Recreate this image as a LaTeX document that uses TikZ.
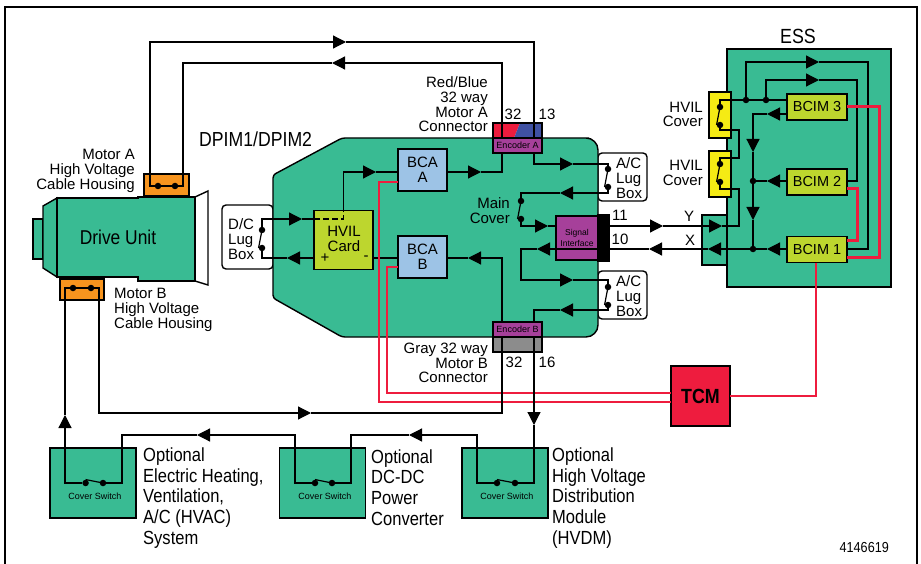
\documentclass[tikz,border=0pt]{standalone}
\usepackage{fontspec}
\setmainfont{Liberation Sans}
\newfontfamily\narrowfont[FakeStretch=0.87]{Liberation Sans}
\usetikzlibrary{arrows.meta}
\definecolor{modgreen}{HTML}{39BB93}
\definecolor{housing}{HTML}{F7941E}
\definecolor{cardgreen}{HTML}{BDD62E}
\definecolor{bcablue}{HTML}{9DC3E6}
\definecolor{encpurple}{HTML}{A6409A}
\definecolor{hvilred}{HTML}{EE1C3E}
\definecolor{coveryellow}{HTML}{F5EB14}
\definecolor{conngray}{HTML}{8C8C8C}
\definecolor{connblue}{HTML}{3F51A3}
\tikzset{
  box/.style={draw, rectangle, line width=1.4pt, inner sep=0pt, outer sep=0pt},
  lugbox/.style={box, fill=white, rounded corners=4pt},
  dot/.style={circle, fill=black, inner sep=0pt, minimum size=6.5pt},
  wire/.style={line width=1.2pt},
  redwire/.style={draw=hvilred, line width=3pt},
  lbl/.style={font=\fontsize{15}{14.7}\selectfont, inner sep=0pt, align=right, anchor=east},
  lblleft/.style={lbl, align=left, anchor=west},
  optlbl/.style={font=\narrowfont\fontsize{19}{20.7}\selectfont, inner sep=0pt, align=left, anchor=west},
  tiny/.style={font=\fontsize{9}{11}\selectfont, inner sep=0pt, align=center},
  ctext/.style={font=\fontsize{15}{15}\selectfont, align=center},
  numlbl/.style={font=\fontsize{15}{15}\selectfont, inner sep=0pt}
}
\begin{document}
\begin{tikzpicture}[x=1pt, y=-1pt, >={Triangle[length=13pt,width=13pt]}]
\useasboundingbox (0,0) rectangle (921,564);
\draw[line width=2pt] (5,564) -- (5,7) -- (917,7) -- (917,564);

\draw[box, fill=modgreen] (33,219) rectangle (43,259);
\draw[box, fill=modgreen] (57,198) -- (43,206) -- (43,268) -- (57,277) -- cycle;
\draw[box, fill=white] (195,197) -- (208,191) -- (208,285) -- (195,281) -- cycle;
\draw[box, fill=modgreen] (57,198) -- (138,198) -- (138,197) -- (195,197) -- (195,281) -- (138,281) -- (138,277) -- (57,277) -- cycle;
\node[font=\narrowfont\fontsize{20}{20}\selectfont] (drive) at (118,237) {Drive Unit};
\node[box, fill=housing, minimum width=45pt, minimum height=22pt] (housa) at (166.5,185) {};
\node[box, fill=housing, minimum width=44pt, minimum height=21pt] (housb) at (82,289.5) {};

\node[lugbox, minimum width=51pt, minimum height=64pt] (dcbox) at (247.5,237) {};
\node[lugbox, minimum width=49pt, minimum height=48pt] (acboxa) at (622.5,177) {};
\node[lugbox, minimum width=49pt, minimum height=48pt] (acboxb) at (622.5,295) {};
\draw[box, fill=modgreen, rounded corners=3pt] (273,175) -- (342,138) -- (586,138) [rounded corners=12pt] -- (598,138) -- (598,337) [rounded corners=3pt] -- (342,337) -- (273,298) -- cycle;

\fill[hvilred] (493,123) -- (520,123) -- (514,138) -- (493,138) -- cycle;
\fill[connblue] (520,123) -- (542,123) -- (542,138) -- (514,138) -- cycle;
\draw[box] (493,123) rectangle (542,138);
\draw[box, fill=conngray] (493,337) rectangle (542,352);

\node[box, fill=cardgreen, minimum width=59pt, minimum height=59pt] (hvil) at (343.5,240) {};
\node[ctext, inner sep=0pt] (hviltext) at (344,238.5) {HVIL\\Card};
\node[numlbl] (hvilplus) at (325,258) {+};
\node[numlbl] (hvilminus) at (366,258) {-};
\node[box, fill=bcablue, minimum width=49pt, minimum height=42pt, ctext] (bcaA) at (422.5,170) {BCA\\A};
\node[box, fill=bcablue, minimum width=49pt, minimum height=42pt, ctext] (bcaB) at (422.5,257) {BCA\\B};
\node[box, fill=encpurple, minimum width=49pt, minimum height=15pt, tiny] (encA) at (517.5,145.5) {Encoder A};
\node[box, fill=encpurple, minimum width=49pt, minimum height=15pt, tiny] (encB) at (517.5,329.5) {Encoder B};
\node[box, fill=encpurple, minimum width=42pt, minimum height=44pt, tiny, font=\fontsize{8.5}{11}\selectfont] (si) at (577,238) {Signal\\Interface};
\node[box, fill=black, minimum width=11pt, minimum height=46pt] (strip) at (603.5,238) {};

\node[box, fill=modgreen, minimum width=25pt, minimum height=50pt] (tab) at (714.5,240) {};
\node[box, fill=modgreen, minimum width=164pt, minimum height=238pt] (ess) at (809,168) {};
\node[box, fill=coveryellow, minimum width=22pt, minimum height=46pt] (hvcova) at (720,115) {};
\node[box, fill=coveryellow, minimum width=22pt, minimum height=46pt] (hvcovb) at (720,174) {};
\node[box, fill=cardgreen, minimum width=60pt, minimum height=26pt, font=\fontsize{14.5}{15}\selectfont] (bcim3) at (817,107) {BCIM 3};
\node[box, fill=cardgreen, minimum width=60pt, minimum height=26pt, font=\fontsize{14.5}{15}\selectfont] (bcim2) at (817,182) {BCIM 2};
\node[box, fill=cardgreen, minimum width=60pt, minimum height=26pt, font=\fontsize{14.5}{15}\selectfont] (bcim1) at (817,249.5) {BCIM 1};
\node[box, fill=hvilred, minimum width=59pt, minimum height=60pt, font=\narrowfont\bfseries\fontsize{20.5}{21}\selectfont] (tcm) at (700.5,396) {TCM};

\node[box, fill=modgreen, minimum width=86pt, minimum height=70pt] (optA) at (93,483) {};
\node[box, fill=modgreen, minimum width=86pt, minimum height=70pt] (optB) at (322.5,483) {};
\node[box, fill=modgreen, minimum width=86pt, minimum height=70pt] (optC) at (505,483) {};

\node[dot] (da1) at (158,186) {};
\node[dot] (da2) at (175,186) {};
\node[dot] (db1) at (73,288) {};
\node[dot] (db2) at (91,288) {};
\node[dot] (dc1) at (262,230) {};
\node[dot] (dc2) at (262,248) {};
\node[dot] (ac1) at (608,169) {};
\node[dot] (ac2) at (608,187) {};
\node[dot] (ac3) at (608,287) {};
\node[dot] (ac4) at (608,305) {};
\node[dot] (mc1) at (521,201) {};
\node[dot] (mc2) at (521,219) {};
\node[dot] (hv1) at (720,107) {};
\node[dot] (hv2) at (720,125) {};
\node[dot] (hv3) at (720,164) {};
\node[dot] (hv4) at (720,182) {};
\node[dot] (j1) at (753,249) {};
\node[dot] (j2) at (753,181) {};
\node[dot] (j3) at (746,100) {};
\node[dot] (j4) at (766,100) {};
\node[dot] (sa1) at (85.6,483) {};
\node[dot] (sa2) at (103,483) {};
\node[dot] (sb1) at (315,483) {};
\node[dot] (sb2) at (332,483) {};
\node[dot] (sc1) at (497,483) {};
\node[dot] (sc2) at (515,483) {};

\draw[wire] (da1.center) -- (da2.center);
\draw[wire] (db1.center) -- (db2.center);
\draw[wire] (dc1.center) -- (dc2.west);
\draw[wire] (ac1.center) -- (ac2.west);
\draw[wire] (ac3.center) -- (ac4.west);
\draw[wire] (mc1.center) -- (mc2.west);
\draw[wire] (hv1.center) -- (hv2.west);
\draw[wire] (hv3.center) -- (hv4.west);
\draw[wire] (sa1.north) -- (sa2.center);
\draw[wire] (sb1.north) -- (sb2.center);
\draw[wire] (sc1.north) -- (sc2.center);

\coordinate (ttop) at (346,42);
\coordinate (tlow) at (332,63);
\coordinate (tdca) at (302,219);
\coordinate (tdcb) at (287,258);
\coordinate (tbca) at (376,172);
\coordinate (tenca) at (481,172);
\coordinate (tencb) at (468,258);
\coordinate (tlua) at (573,164);
\coordinate (tlub) at (560,193);
\coordinate (tsig) at (548,226);
\coordinate (tya) at (663,226);
\coordinate (tyb) at (722,226);
\coordinate (txa) at (708,249);
\coordinate (txb) at (649,249);
\coordinate (txc) at (537,249);
\coordinate (tluc) at (573,280);
\coordinate (tlud) at (560,310);

\draw[wire,->] (da1) -- (150,186) -- (150,42) -- (ttop);
\draw[wire] (ttop) -| (encA.north -| 534,0);
\draw[wire,->] (encA.north -| 502,0) |- (tlow);
\draw[wire] (tlow) -- (183,63) -- (183,186) -- (da2);

\draw[wire,->] (dc1) |- (tdca);
\draw[wire] (tdca) -- (hvil.west |- tdca);
\draw[wire,dash pattern=on 6pt off 3pt] (hvil.west |- tdca) -| (hvil.north);
\draw[wire,->] (hvil.north) |- (tbca);
\draw[wire] (tbca) -- (bcaA.west |- tbca);
\draw[wire,->] (hvil.west |- tdcb) -- (tdcb);
\draw[wire] (tdcb) -| (dc2);
\draw[wire] (hvil.east |- tdcb) -- (bcaB.west |- tdcb);
\draw[wire,->] (bcaA.east |- tenca) -- (tenca);
\draw[wire] (tenca) -| (encA.south -| 502,0);
\draw[wire,->] (encB.north -| 502,0) |- (tencb);
\draw[wire] (tencb) -- (bcaB.east |- tencb);

\draw[wire,->] (encA.south -| 534,0) |- (tlua);
\draw[wire] (tlua) -| (ac1);
\draw[wire,->] (ac2) |- (tlub);
\draw[wire] (tlub) -| (mc1);
\draw[wire,->] (mc2) |- (tsig);
\draw[wire] (tsig) -- (si.west |- tsig);
\draw[wire,->] (strip.east |- tya) -- (tya);
\draw[wire,->] (tya) -- (tyb);
\draw[wire] (tyb) -- (739,226) -- (739,189) -- (720,189) -- (hv4);
\draw[wire,->] (j1) -- (txa);
\draw[wire,->] (txa) -- (txb);
\draw[wire,->] (txb) -- (txc);
\draw[wire,->] (txc) -- (521,249) |- (tluc);
\draw[wire] (tluc) -| (ac3);
\draw[wire,->] (ac4) |- (tlud);
\draw[wire] (tlud) -| (encB.north -| 534,0);

\coordinate (tessa) at (819,62);
\coordinate (tessb) at (819,80);
\coordinate (tbim3) at (767,114);
\coordinate (tbim2) at (767,181);
\coordinate (tbim1) at (767,249);
\coordinate (tdowna) at (753,152);
\coordinate (tdownb) at (753,220);

\draw[wire] (bcim3.west |- j4) -- (j4) -- (j3) -| (hv1);
\draw[wire,->] (j3) |- (tessa);
\draw[wire] (tessa) -- (868,62) -- (868,249) -- (bcim1.east |- j1);
\draw[wire,->] (j4) |- (tessb);
\draw[wire] (tessb) -- (857,80) -- (857,181) -- (bcim2.east |- j2);
\draw[wire,->] (bcim3.west |- tbim3) -- (tbim3);
\draw[wire,->] (tbim3) -- (753,114) -- (tdowna);
\draw[wire] (tdowna) -- (j2);
\draw[wire,->] (j2) -- (tdownb);
\draw[wire] (tdownb) -- (j1);
\draw[wire,->] (bcim2.west |- tbim2) -- (tbim2);
\draw[wire] (tbim2) -- (j2);
\draw[wire,->] (bcim1.west |- tbim1) -- (tbim1);
\draw[wire] (tbim1) -- (j1);
\draw[wire] (hv2) -- (720,130) -- (739,130) -- (739,158) -- (720,158) -- (hv3);

\draw[redwire] (bcim3.east |- 0,107) -- (879,107) -- (879,257) -- (bcim1.east |- 0,257);
\draw[redwire] (bcim2.east |- 0,189) -- (857,189) -- (857,241) -- (bcim1.east |- 0,241);
\draw[redwire, line width=2.2pt] (bcim1.south -| 816,0) |- (tcm.east);
\draw[redwire, line width=2.6pt] (tcm.west |- 0,393) -- (387,393) -- (387,267) -- (bcaB.west |- 0,267);
\draw[redwire, line width=2.4pt] (tcm.west |- 0,402) -- (379,402) -- (379,182) -- (bcaA.west |- 0,182);

\coordinate (tup) at (65,415);
\coordinate (tbot) at (311,413);
\coordinate (tfeed) at (534,425);
\coordinate (tfba) at (409,435);
\coordinate (tfbb) at (197,435);

\draw[wire,->] (sa1) -- (65,483) -- (tup);
\draw[wire] (tup) -- (65,288) -- (db1);
\draw[wire,->] (db2) -- (99,288) -- (99,413) -- (tbot);
\draw[wire] (tbot) -| (encB.south -| 502,0);
\draw[wire,->] (encB.south -| 534,0) -- (tfeed);
\draw[wire] (tfeed) |- (sc2);
\draw[wire,->] (sc1) -- (477,483) |- (tfba);
\draw[wire] (tfba) -- (351,435) |- (sb2);
\draw[wire,->] (sb1) -- (295,483) |- (tfbb);
\draw[wire] (tfbb) -- (122,435) |- (sa2);

\node[tiny] (coversw1) at (95,496) {Cover Switch};
\node[tiny] (coversw2) at (325,496) {Cover Switch};
\node[tiny] (coversw3) at (507,496) {Cover Switch};

\node[lbl] (motorA) at (135,171) {Motor A\\High Voltage\\Cable Housing};
\node[lblleft] (motorB) at (114,310) {Motor B\\High Voltage\\Cable Housing};
\node[lbl] (redblue) at (488,104.5) {Red/Blue\\32 way\\Motor A\\Connector};
\node[lbl] (gray) at (488,363) {Gray 32 way\\Motor B\\Connector};
\node[lbl] (maincov) at (510,210.5) {Main\\Cover};
\node[lblleft] (dctext) at (228,239) {D/C\\Lug\\Box};
\node[lblleft] (actexta) at (616,178) {A/C\\Lug\\Box};
\node[lblleft] (actextb) at (616,296) {A/C\\Lug\\Box};
\node[lbl] (hvtexta) at (703,114.5) {HVIL\\Cover};
\node[lbl] (hvtextb) at (703,173) {HVIL\\Cover};
\node[font=\narrowfont\fontsize{20.3}{20}\selectfont, inner sep=0pt, anchor=west] (dpim) at (199,139) {DPIM1/DPIM2};
\node[font=\narrowfont\fontsize{20.5}{20}\selectfont, inner sep=0pt] (esstext) at (798,36) {ESS};
\node[numlbl] (n32a) at (513,114) {32};
\node[numlbl] (n13) at (547,114) {13};
\node[numlbl] (n32b) at (514,362) {32};
\node[numlbl] (n16) at (547,362) {16};
\node[numlbl] (n11) at (620,215) {11};
\node[numlbl] (n10) at (620,239) {10};
\node[numlbl] (ytext) at (689,216) {Y};
\node[numlbl] (xtext) at (690,240) {X};
\node[optlbl] (opthvac) at (143,498) {Optional\\Electric Heating,\\Ventilation,\\A/C (HVAC)\\System};
\node[optlbl] (optdcdc) at (371,487.5) {Optional\\DC-DC\\Power\\Converter};
\node[optlbl] (opthvdm) at (552,498) {Optional\\High Voltage\\Distribution\\Module\\(HVDM)};
\node[font=\narrowfont\fontsize{14.5}{14}\selectfont, inner sep=0pt, anchor=east] (partno) at (889,548) {4146619};
\end{tikzpicture}
\end{document}
